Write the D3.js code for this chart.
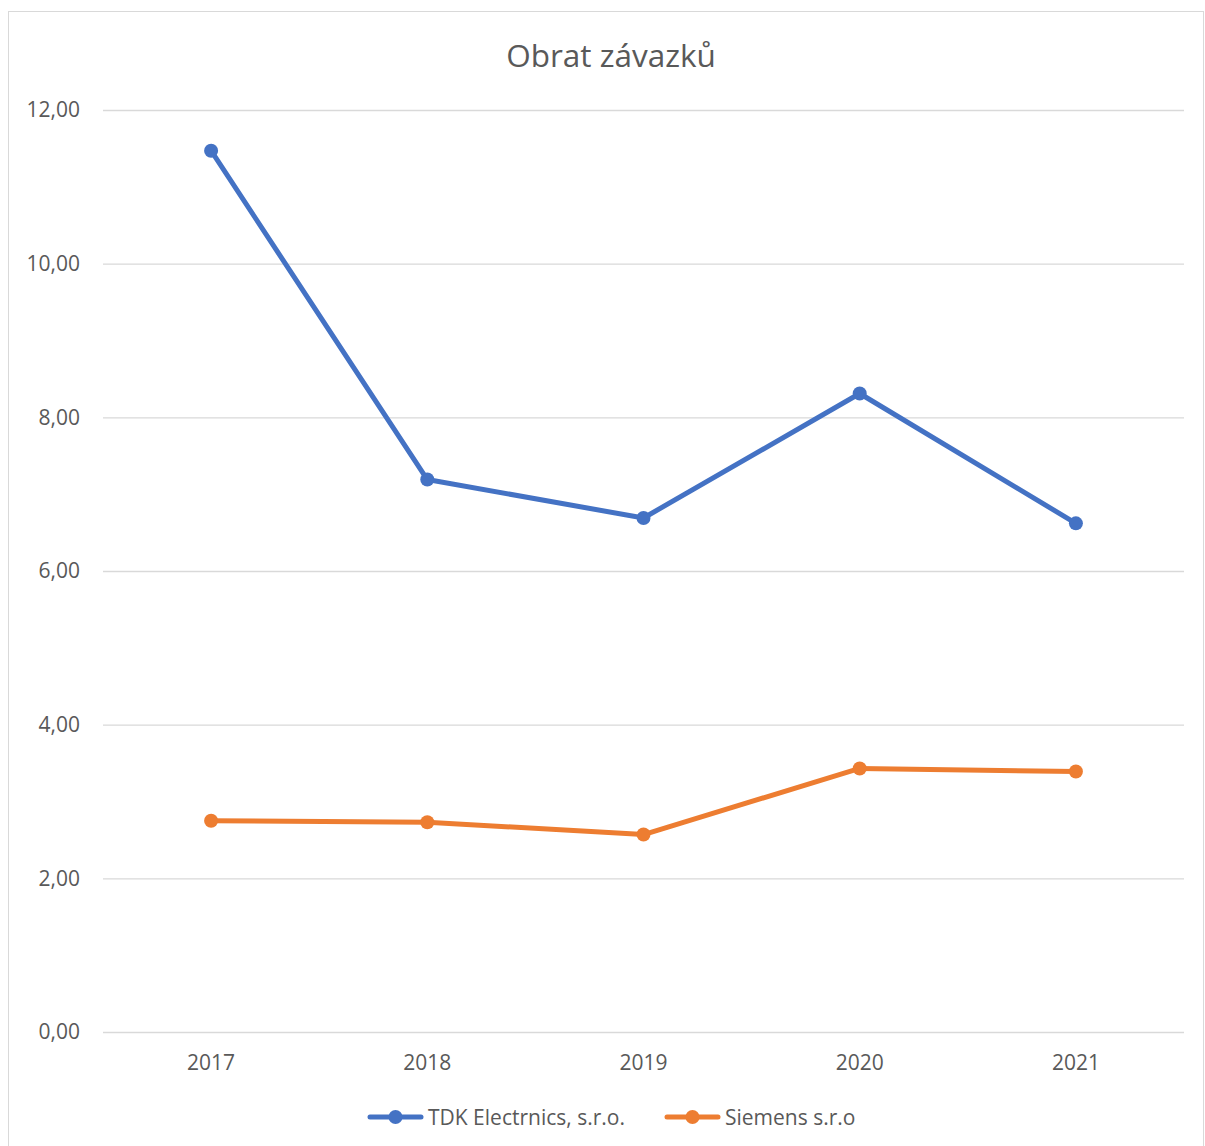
<!DOCTYPE html>
<html>
<head>
<meta charset="utf-8">
<script src="https://cdn.jsdelivr.net/npm/d3@7"></script>
<style>
  body { margin: 0; background: #fff; }
  text { font-family: "Open Sans", sans-serif; fill: #595959; }
</style>
</head>
<body>
<script>
// data
const years = ['2017', '2018', '2019', '2020', '2021'];
const tdk = [11.47, 7.19, 6.69, 8.31, 6.62];
const siemens = [2.75, 2.73, 2.57, 3.43, 3.39];
const seriesNames = ['TDK Electrnics, s.r.o.', 'Siemens s.r.o'];
const seriesColors = ['#4472c4', '#ed7d31'];
const yTicks = [0, 2, 4, 6, 8, 10, 12];

const w = 1205, h = 1146;
const margin = { top: 110, right: 21, bottom: 114, left: 103 };
const innerWidth = w - margin.left - margin.right;
const innerHeight = h - margin.top - margin.bottom;

const svg = d3.select('body').append('svg')
    .attr('width', w)
    .attr('height', h);

// chart border
svg.append('rect')
    .attr('x', 8.5).attr('y', 11.5)
    .attr('width', 1195).attr('height', 1140)
    .attr('fill', 'none')
    .attr('stroke', '#d9d9d9')
    .attr('stroke-width', 1);

svg.append('text')
    .attr('x', 611).attr('y', 67)
    .attr('text-anchor', 'middle')
    .style('font-size', '31.5px')
    .text('Obrat závazků');

const g = svg.append('g')
    .attr('transform', `translate(${margin.left},${margin.top})`);

const xScale = d3.scaleBand()
    .domain(years)
    .range([0, innerWidth]);

const yScale = d3.scaleLinear()
    .domain([0, 12])
    .range([innerHeight, 0]);

const fmt = d => d3.format('.2f')(d).replace('.', ',');

// gridlines + y labels
const yAxis = d3.axisLeft(yScale)
    .tickValues(yTicks)
    .tickSize(-innerWidth)
    .tickPadding(23)
    .tickFormat(fmt);

const yAxisG = g.append('g').call(yAxis);
yAxisG.select('.domain').remove();
yAxisG.selectAll('line').attr('stroke', '#d9d9d9').attr('stroke-width', 1.3);
yAxisG.selectAll('text').style('font-size', '21px').attr('fill', '#595959');

// x labels
const xAxis = d3.axisBottom(xScale).tickSize(0).tickPadding(23);
const xAxisG = g.append('g')
    .attr('transform', `translate(0,${innerHeight})`)
    .call(xAxis);
xAxisG.select('.domain').remove();
xAxisG.selectAll('text').style('font-size', '21px').attr('fill', '#595959');

const cx = d => xScale(d) + xScale.bandwidth() / 2;

const line = d3.line()
    .x((d, i) => cx(years[i]))
    .y(d => yScale(d));

[tdk, siemens].forEach((vals, k) => {
    g.append('path')
        .datum(vals)
        .attr('d', line)
        .attr('fill', 'none')
        .attr('stroke', seriesColors[k])
        .attr('stroke-width', 5)
        .attr('stroke-linejoin', 'round')
        .attr('stroke-linecap', 'round');

    g.selectAll('.pt' + k)
        .data(vals)
        .enter()
        .append('circle')
        .attr('cx', (d, i) => cx(years[i]))
        .attr('cy', d => yScale(d))
        .attr('r', 7)
        .attr('fill', seriesColors[k]);
});

// legend
const legendX = [370, 667];
seriesNames.forEach((name, k) => {
    const lg = svg.append('g').attr('transform', `translate(${legendX[k]},1117)`);
    lg.append('line')
        .attr('x1', 0).attr('x2', 51)
        .attr('stroke', seriesColors[k])
        .attr('stroke-width', 5)
        .attr('stroke-linecap', 'round');
    lg.append('circle')
        .attr('cx', 25.5).attr('r', 7)
        .attr('fill', seriesColors[k]);
    lg.append('text')
        .attr('x', 58).attr('y', 7.5)
        .style('font-size', '21px')
        .text(name);
});
</script>
</body>
</html>
